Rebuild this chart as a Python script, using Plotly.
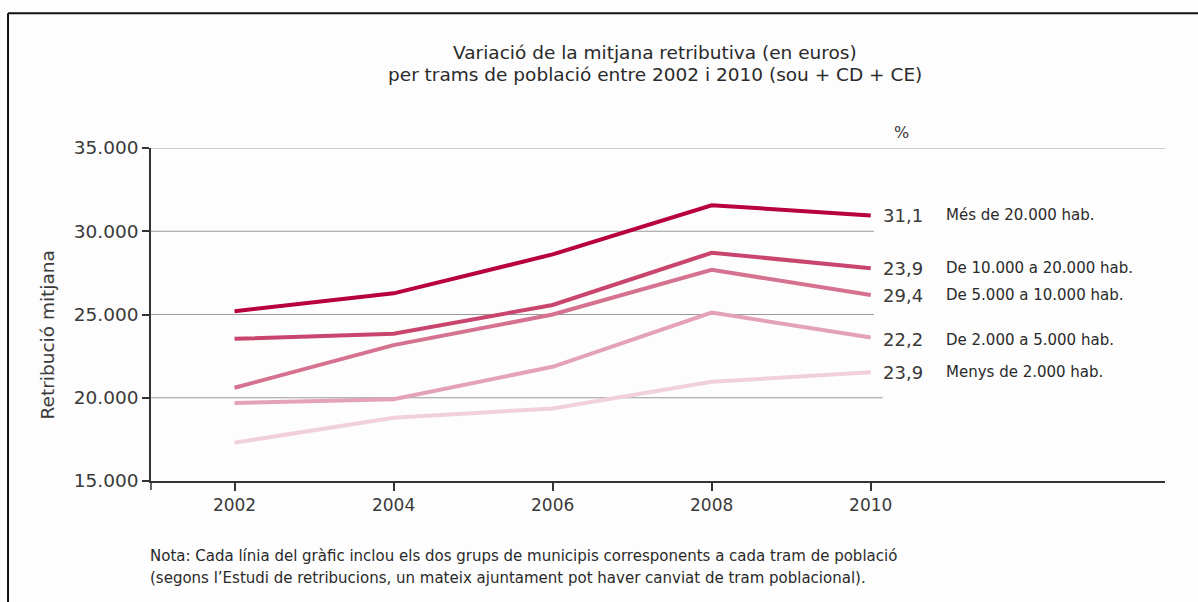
import plotly.graph_objects as go

years = [2002, 2004, 2006, 2008, 2010]
series_names = ["Més de 20.000 hab.", "De 10.000 a 20.000 hab.", "De 5.000 a 10.000 hab.",
                "De 2.000 a 5.000 hab.", "Menys de 2.000 hab."]
mes_20000 = [25200, 26270, 28610, 31560, 30950]
de_10000_20000 = [23540, 23840, 25570, 28710, 27780]
de_5000_10000 = [20600, 23160, 25000, 27680, 26170]
de_2000_5000 = [19680, 19910, 21860, 25120, 23620]
menys_2000 = [17300, 18800, 19360, 20960, 21530]
pct_labels = ["31,1", "23,9", "29,4", "22,2", "23,9"]
y_ticks = [15000, 20000, 25000, 30000, 35000]
y_ticktext = ["15.000", "20.000", "25.000", "30.000", "35.000"]

series_values = [mes_20000, de_10000_20000, de_5000_10000, de_2000_5000, menys_2000]
colors = ["#b8003c", "#c8456d", "#d5728f", "#e3a2b6", "#f1d0da"]

FONT = "DejaVu Sans, Liberation Sans, Arial, sans-serif"
TXT = "#3a3a3a"

fig = go.Figure()
for name, vals, col in reversed(list(zip(series_names, series_values, colors))):
    fig.add_trace(go.Scatter(x=years, y=vals, mode="lines", name=name,
                             line=dict(color=col, width=4), showlegend=False,
                             hoverinfo="x+y+name"))

shapes = []
shapes.append(dict(type="line", xref="paper", yref="y", x0=0, x1=1, y0=35000, y1=35000,
                   line=dict(color="#9a9a9a", width=1.2), layer="below"))
for gv, xe in [(30000, 2010.04), (25000, 2010.04), (20000, 2010.15)]:
    shapes.append(dict(type="line", xref="x", yref="y", x0=2000.95, x1=xe, y0=gv, y1=gv,
                       line=dict(color="#9a9a9a", width=1.2), layer="below"))
shapes.append(dict(type="line", xref="paper", yref="paper", x0=0, x1=0, y0=0, y1=-0.027,
                   line=dict(color="#333333", width=1.5)))
shapes.append(dict(type="line", xref="paper", yref="paper", x0=-0.141, x1=1.04, y0=1.405, y1=1.405,
                   line=dict(color="#111111", width=2)))
shapes.append(dict(type="line", xref="paper", yref="paper", x0=-0.141, x1=-0.141, y0=1.405, y1=-0.4,
                   line=dict(color="#111111", width=2)))

annotations = []
annotations.append(dict(text="Variació de la mitjana retributiva (en euros)", xref="paper", yref="paper",
                        x=0.497, y=1.288, showarrow=False, xanchor="center", yanchor="middle",
                        font=dict(family=FONT, size=18.5, color="#2a2a2a")))
annotations.append(dict(text="per trams de població entre 2002 i 2010 (sou + CD + CE)", xref="paper", yref="paper",
                        x=0.497, y=1.222, showarrow=False, xanchor="center", yanchor="middle",
                        font=dict(family=FONT, size=18.5, color="#2a2a2a")))
annotations.append(dict(text="%", xref="x", yref="paper", x=2010.39, y=1.048, showarrow=False,
                        xanchor="center", yanchor="middle", font=dict(family=FONT, size=16, color=TXT)))
label_y = [vals[-1] for vals in series_values]
label_y[3] = label_y[3] - 150
for lab, ly, name in zip(pct_labels, label_y, series_names):
    annotations.append(dict(text=lab, xref="x", yref="y", x=2010, y=ly, xshift=10, showarrow=False,
                            xanchor="left", yanchor="middle", font=dict(family=FONT, size=18, color=TXT)))
    annotations.append(dict(text=name, xref="x", yref="y", x=2010, y=ly, xshift=73, showarrow=False,
                            xanchor="left", yanchor="middle", font=dict(family=FONT, size=15, color="#2a2a2a")))
annotations.append(dict(text="Retribució mitjana", xref="paper", yref="paper", x=-0.1016, y=0.44,
                        textangle=-90, showarrow=False, xanchor="center", yanchor="middle",
                        font=dict(family=FONT, size=18.5, color=TXT)))
annotations.append(dict(text="Nota: Cada línia del gràfic inclou els dos grups de municipis corresponents a cada tram de població",
                        xref="paper", yref="paper", x=-0.003, y=-0.225, showarrow=False,
                        xanchor="left", yanchor="middle", font=dict(family=FONT, size=15, color="#2a2a2a")))
annotations.append(dict(text="(segons l’Estudi de retribucions, un mateix ajuntament pot haver canviat de tram poblacional).",
                        xref="paper", yref="paper", x=-0.003, y=-0.291, showarrow=False,
                        xanchor="left", yanchor="middle", font=dict(family=FONT, size=15, color="#2a2a2a")))

fig.update_layout(
    width=1198, height=602,
    margin=dict(l=151, r=33, t=148, b=121, autoexpand=False),
    paper_bgcolor="#fdfdfd", plot_bgcolor="#fdfdfd",
    font=dict(family=FONT, color=TXT),
    shapes=shapes, annotations=annotations,
    xaxis=dict(range=[2000.95, 2013.7], tickvals=years, ticktext=[str(y) for y in years],
               showgrid=False, zeroline=False, showline=True, linecolor="#333333", linewidth=2,
               ticks="outside", ticklen=8, tickwidth=1.5, tickcolor="#333333",
               tickfont=dict(family=FONT, size=17, color=TXT)),
    yaxis=dict(range=[15000, 35000], tickvals=y_ticks, ticktext=y_ticktext,
               showgrid=False, zeroline=False, showline=True, linecolor="#333333", linewidth=1.5,
               ticks="outside", ticklen=7, tickwidth=1.5, tickcolor="#333333",
               tickfont=dict(family=FONT, size=18.5, color=TXT)),
)

fig.write_html("out.html", config={"displayModeBar": False},
               post_script="document.body.style.margin='0';document.body.style.overflow='hidden';")
